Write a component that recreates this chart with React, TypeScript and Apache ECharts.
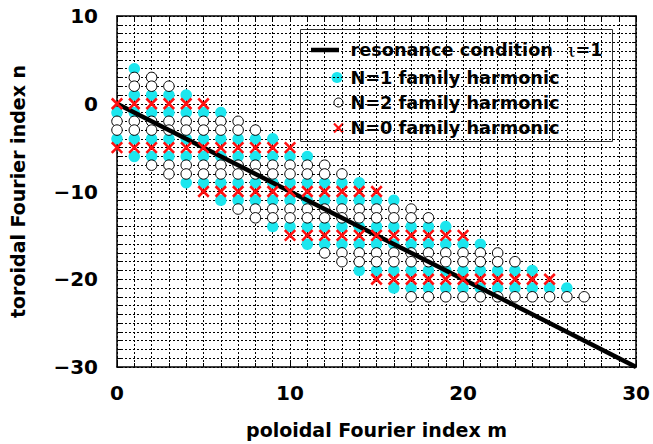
import React, { useEffect, useRef } from "react";
import * as echarts from "echarts";

// ---- data (m = poloidal index, list of n = toroidal index) ----
const xTicks = [0, 10, 20, 30];
const yTicks = [-30, -20, -10, 0, 10];

const resonanceLine: [number, number][] = [
  [0, 0],
  [30, -30],
];

// N=1 family (cyan filled dots)
const n1Family: [number, number[]][] = [
  [0, [-1, -4]],
  [1, [4, 1, -1, -4, -6]],
  [2, [1, -1, -4, -6]],
  [3, [1, -1, -4, -6]],
  [4, [1, -1, -4, -6, -9]],
  [5, [-1, -4, -6, -9]],
  [6, [-1, -4, -6, -9, -11]],
  [7, [-4, -6, -9, -11]],
  [8, [-4, -6, -9, -11]],
  [9, [-4, -6, -9, -11, -14]],
  [10, [-6, -9, -11, -14]],
  [11, [-6, -9, -11, -14, -16]],
  [12, [-9, -11, -14, -16]],
  [13, [-9, -11, -14, -16]],
  [14, [-9, -11, -14, -16, -19]],
  [15, [-11, -14, -16, -19]],
  [16, [-11, -14, -16, -19, -21]],
  [17, [-14, -16, -19, -21]],
  [18, [-14, -16, -19, -21]],
  [19, [-14, -16, -19, -21]],
  [20, [-16, -19, -21]],
  [21, [-16, -19, -21]],
  [22, [-19, -21]],
  [23, [-19, -21]],
  [24, [-19, -21]],
  [25, [-21]],
  [26, [-21]],
];

// N=2 family (open circles)
const n2Family: [number, number[]][] = [
  [0, [-2, -3]],
  [1, [3, 2, -2, -3]],
  [2, [3, 2, -2, -3, -7]],
  [3, [2, -2, -3, -7, -8]],
  [4, [-2, -3, -7, -8]],
  [5, [-2, -3, -7, -8]],
  [6, [-2, -3, -7, -8]],
  [7, [-2, -3, -7, -8, -12]],
  [8, [-3, -7, -8, -12, -13]],
  [9, [-7, -8, -12, -13]],
  [10, [-7, -8, -12, -13]],
  [11, [-7, -8, -12, -13]],
  [12, [-7, -8, -12, -13, -17]],
  [13, [-8, -12, -13, -17, -18]],
  [14, [-12, -13, -17, -18]],
  [15, [-12, -13, -17, -18]],
  [16, [-12, -13, -17, -18]],
  [17, [-12, -13, -17, -18, -22]],
  [18, [-13, -17, -18, -22]],
  [19, [-17, -18, -22]],
  [20, [-17, -18, -22]],
  [21, [-17, -18, -22]],
  [22, [-17, -18, -22]],
  [23, [-18, -22]],
  [24, [-22]],
  [25, [-22]],
  [26, [-22]],
  [27, [-22]],
];

// N=0 family (red crosses)
const n0Family: [number, number[]][] = [
  [0, [0, -5]],
  [1, [0, -5]],
  [2, [0, -5]],
  [3, [0, -5]],
  [4, [0, -5]],
  [5, [0, -5, -10]],
  [6, [-5, -10]],
  [7, [-5, -10]],
  [8, [-5, -10]],
  [9, [-5, -10]],
  [10, [-5, -10, -15]],
  [11, [-10, -15]],
  [12, [-10, -15]],
  [13, [-10, -15]],
  [14, [-10, -15]],
  [15, [-10, -15, -20]],
  [16, [-15, -20]],
  [17, [-15, -20]],
  [18, [-15, -20]],
  [19, [-15, -20]],
  [20, [-15, -20]],
  [21, [-20]],
  [22, [-20]],
  [23, [-20]],
  [24, [-20]],
  [25, [-20]],
];

const toPoints = (fam: [number, number[]][]) =>
  fam.flatMap(([m, ns]) => ns.map((n) => [m, n]));

const CYAN = "#1ce6ee";
const RED = "#ff1010";
const FONT = '"DejaVu Sans", "Liberation Sans", sans-serif';

const fmt = (v: number) => (v < 0 ? "\u2212" + Math.abs(v) : String(v));

export default function App() {
  const ref = useRef<HTMLDivElement>(null);

  useEffect(() => {
    document.body.style.margin = "0";
    if (!ref.current) return;
    const chart = echarts.init(ref.current, undefined, { renderer: "svg" });

    const gridLine = { show: true, lineStyle: { color: "#000", width: 1, type: [2, 2] as number[] } };

    const baseX = {
      type: "value" as const,
      min: xTicks[0],
      max: xTicks[xTicks.length - 1],
      interval: xTicks[1] - xTicks[0],
      axisLine: { show: true, onZero: false, lineStyle: { color: "#000", width: 1.5 } },
      axisTick: { show: true, inside: true, length: 5, lineStyle: { color: "#000" } },
      minorTick: { show: true, splitNumber: 10, length: 4, lineStyle: { color: "#000" } },
    };
    const baseY = {
      type: "value" as const,
      min: yTicks[0],
      max: yTicks[yTicks.length - 1],
      interval: yTicks[1] - yTicks[0],
      axisLine: { show: true, onZero: false, lineStyle: { color: "#000", width: 1.5 } },
      axisTick: { show: true, inside: true, length: 5, lineStyle: { color: "#000" } },
      minorTick: { show: true, splitNumber: 10, length: 4, lineStyle: { color: "#000" } },
    };

    const legendRows = [50, 77.5, 102.5, 128];
    const legendFont = `bold 17.7px ${FONT}`;

    chart.setOption({
      animation: false,
      backgroundColor: "#fff",
      grid: { left: 116, right: 15, top: 16, bottom: 77, containLabel: false },
      xAxis: [
        {
          ...baseX,
          position: "bottom",
          splitLine: gridLine,
          minorSplitLine: gridLine,
          axisLabel: {
            show: true,
            margin: 16,
            formatter: fmt,
            color: "#000",
            fontFamily: FONT,
            fontWeight: "bold",
            fontSize: 20,
          },
          name: "poloidal Fourier index m",
          nameLocation: "middle",
          nameGap: 53,
          nameTextStyle: { color: "#000", fontFamily: FONT, fontWeight: "bold", fontSize: 19 },
        },
        {
          ...baseX,
          position: "top",
          splitLine: { show: false },
          axisLabel: { show: false },
        },
      ],
      yAxis: [
        {
          ...baseY,
          position: "left",
          splitLine: gridLine,
          minorSplitLine: gridLine,
          axisLabel: {
            show: true,
            margin: 19,
            formatter: fmt,
            color: "#000",
            fontFamily: FONT,
            fontWeight: "bold",
            fontSize: 20,
          },
          name: "toroidal Fourier index n",
          nameLocation: "middle",
          nameGap: 90,
          nameTextStyle: { color: "#000", fontFamily: FONT, fontWeight: "bold", fontSize: 19 },
        },
        {
          ...baseY,
          position: "right",
          splitLine: { show: false },
          axisLabel: { show: false },
        },
      ],
      series: [
        {
          name: "N=1 family harmonic",
          type: "scatter",
          data: toPoints(n1Family),
          symbol: "circle",
          symbolSize: 11.5,
          itemStyle: { color: CYAN, opacity: 1 },
          z: 2,
        },
        {
          name: "N=2 family harmonic",
          type: "scatter",
          data: toPoints(n2Family),
          symbol: "circle",
          symbolSize: 10.5,
          itemStyle: { color: "#fff", borderColor: "#000", borderWidth: 1, opacity: 1 },
          z: 3,
        },
        {
          name: "resonance condition",
          type: "line",
          data: resonanceLine,
          symbol: "none",
          lineStyle: { color: "#000", width: 4.5 },
          z: 4,
        },
        {
          name: "N=0 family harmonic",
          type: "scatter",
          data: toPoints(n0Family),
          symbol: "path://M0,0L10,10M10,0L0,10",
          symbolSize: 10.5,
          itemStyle: { color: "rgba(0,0,0,0)", borderColor: RED, borderWidth: 2.5, opacity: 1 },
          z: 5,
        },
      ],
      graphic: [
        {
          type: "group",
          z: 100,
          children: [
            {
              type: "rect",
              shape: { x: 300.5, y: 29.5, width: 312, height: 112 },
              style: { fill: "#fff", stroke: "#333", lineWidth: 1 },
            },
            {
              type: "line",
              shape: { x1: 311, y1: legendRows[0], x2: 339, y2: legendRows[0] },
              style: { stroke: "#000", lineWidth: 4.5 },
            },
            {
              type: "circle",
              shape: { cx: 337, cy: legendRows[1], r: 5.5 },
              style: { fill: CYAN },
            },
            {
              type: "circle",
              shape: { cx: 338.5, cy: legendRows[2], r: 4.5 },
              style: { fill: "#fff", stroke: "#000", lineWidth: 1 },
            },
            {
              type: "line",
              shape: { x1: 334, y1: legendRows[3] - 4.5, x2: 343, y2: legendRows[3] + 4.5 },
              style: { stroke: RED, lineWidth: 2.2 },
            },
            {
              type: "line",
              shape: { x1: 343, y1: legendRows[3] - 4.5, x2: 334, y2: legendRows[3] + 4.5 },
              style: { stroke: RED, lineWidth: 2.2 },
            },
            {
              type: "text",
              x: 350.5,
              y: legendRows[0],
              style: { text: "resonance condition", font: legendFont, fill: "#000", verticalAlign: "middle" },
            },
            {
              type: "text",
              x: 568,
              y: legendRows[0],
              style: {
                text: "{i|\u03b9}{b|=1}",
                fill: "#000",
                verticalAlign: "middle",
                rich: {
                  i: { fontFamily: '"DejaVu Serif", serif', fontSize: 19, fontWeight: "normal", fill: "#000" },
                  b: { fontFamily: FONT, fontSize: 17.7, fontWeight: "bold", fill: "#000" },
                },
              },
            },
            {
              type: "text",
              x: 350.5,
              y: legendRows[1],
              style: { text: "N=1 family harmonic", font: legendFont, fill: "#000", verticalAlign: "middle" },
            },
            {
              type: "text",
              x: 350.5,
              y: legendRows[2],
              style: { text: "N=2 family harmonic", font: legendFont, fill: "#000", verticalAlign: "middle" },
            },
            {
              type: "text",
              x: 350.5,
              y: legendRows[3],
              style: { text: "N=0 family harmonic", font: legendFont, fill: "#000", verticalAlign: "middle" },
            },
          ],
        },
      ],
    });

    return () => chart.dispose();
  }, []);

  return <div ref={ref} style={{ width: 653, height: 444 }} />;
}
